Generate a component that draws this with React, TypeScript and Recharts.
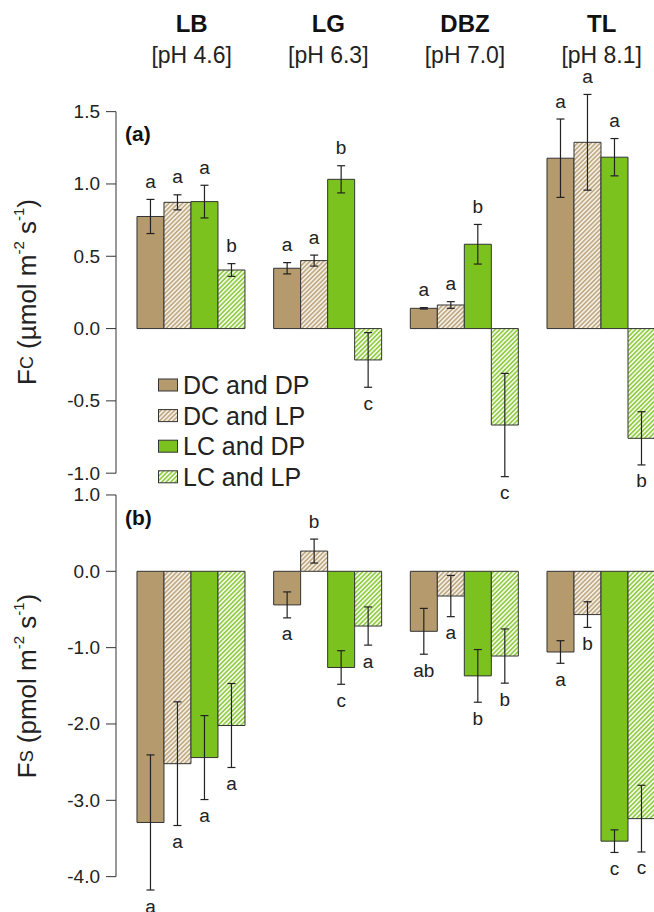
import React from 'react'
import { BarChart, Bar, XAxis, YAxis, ErrorBar, LabelList } from 'recharts'

// ─── Data ────────────────────────────────────────────────────────────────────

const SITES = ['LB', 'LG', 'DBZ', 'TL']
const SITE_PH = ['[pH 4.6]', '[pH 6.3]', '[pH 7.0]', '[pH 8.1]']
const TREATMENTS = ['DC and DP', 'DC and LP', 'LC and DP', 'LC and LP']

// (a) Fc  (µmol m-2 s-1), mean, error and significance letters per site
const FC_DCDP = [0.775, 0.417, 0.14, 1.178]
const FC_DCLP = [0.873, 0.47, 0.163, 1.288]
const FC_LCDP = [0.878, 1.032, 0.583, 1.185]
const FC_LCLP = [0.405, -0.217, -0.667, -0.759]
const FC_DCDP_ERR = [0.118, 0.039, 0.005, 0.271]
const FC_DCLP_ERR = [0.052, 0.038, 0.023, 0.331]
const FC_LCDP_ERR = [0.113, 0.094, 0.137, 0.129]
const FC_LCLP_ERR = [0.044, 0.189, 0.357, 0.184]
const FC_DCDP_SIG = ['a', 'a', 'a', 'a']
const FC_DCLP_SIG = ['a', 'a', 'a', 'a']
const FC_LCDP_SIG = ['a', 'b', 'b', 'a']
const FC_LCLP_SIG = ['b', 'c', 'c', 'b']
const FC_TICKS = [-1, -0.5, 0, 0.5, 1, 1.5]

// (b) Fs  (pmol m-2 s-1)
const FS_DCDP = [-3.29, -0.44, -0.786, -1.057]
const FS_DCLP = [-2.52, 0.265, -0.324, -0.567]
const FS_LCDP = [-2.44, -1.26, -1.37, -3.535]
const FS_LCLP = [-2.02, -0.717, -1.11, -3.24]
const FS_DCDP_ERR = [0.885, 0.17, 0.3, 0.148]
const FS_DCLP_ERR = [0.81, 0.157, 0.27, 0.168]
const FS_LCDP_ERR = [0.55, 0.22, 0.345, 0.148]
const FS_LCLP_ERR = [0.55, 0.25, 0.355, 0.437]
const FS_DCDP_SIG = ['a', 'a', 'ab', 'a']
const FS_DCLP_SIG = ['a', 'b', 'a', 'b']
const FS_LCDP_SIG = ['a', 'c', 'b', 'c']
const FS_LCLP_SIG = ['a', 'a', 'b', 'c']
const FS_TICKS = [-4, -3, -2, -1, 0, 1]

// ─── Layout / style ──────────────────────────────────────────────────────────

const FONT = "'Liberation Sans', Arial, Helvetica, sans-serif"
const INK = '#222'
const TAN = '#b49a6c'
const GREEN = '#7cc21f'
const CHART_W = 670
const AXIS_X = 116

// panel a: y range kept wider than the drawn axis so error bars / letters fit
const A_DOMAIN: [number, number] = [-1.2, 1.75]
const A_PLOT_H = 426.6
const A_TOP_AXIS_H = 75.5
const A_BOTTOM_PAD = 12
// panel b
const B_DOMAIN: [number, number] = [-4.4, 1.2]
const B_TOP = 440
const B_MARGIN_TOP = 39.7
const B_PLOT_H = 427.5
const B_BOTTOM_PAD = 5

const KEYS = ['dcdp', 'dclp', 'lcdp', 'lclp']

function buildRows(means: number[][], errs: number[][], sigs: string[][]) {
  return SITES.map((site, i) => {
    const row: Record<string, string | number> = { site }
    KEYS.forEach((k, j) => {
      row[k] = means[j][i]
      row[k + 'Err'] = errs[j][i]
      row[k + 'Sig'] = sigs[j][i]
    })
    return row
  })
}

const FC_MEANS = [FC_DCDP, FC_DCLP, FC_LCDP, FC_LCLP]
const FC_ERRS = [FC_DCDP_ERR, FC_DCLP_ERR, FC_LCDP_ERR, FC_LCLP_ERR]
const FS_MEANS = [FS_DCDP, FS_DCLP, FS_LCDP, FS_LCLP]
const FS_ERRS = [FS_DCDP_ERR, FS_DCLP_ERR, FS_LCDP_ERR, FS_LCLP_ERR]

const FC_ROWS = buildRows(FC_MEANS, FC_ERRS, [FC_DCDP_SIG, FC_DCLP_SIG, FC_LCDP_SIG, FC_LCLP_SIG])
const FS_ROWS = buildRows(FS_MEANS, FS_ERRS, [FS_DCDP_SIG, FS_DCLP_SIG, FS_LCDP_SIG, FS_LCLP_SIG])

function fills(sfx: string) {
  return [TAN, `url(#hatchTan${sfx})`, GREEN, `url(#hatchGreen${sfx})`]
}

function Patterns({ sfx }: { sfx: string }) {
  return (
    <defs>
      <pattern id={`hatchTan${sfx}`} patternUnits="userSpaceOnUse" width={3.2} height={3.2} patternTransform="rotate(45)">
        <rect width={3.2} height={3.2} fill="#f4efe6" />
        <line x1={0.8} y1={0} x2={0.8} y2={3.2} stroke={TAN} strokeWidth={1.3} />
      </pattern>
      <pattern id={`hatchGreen${sfx}`} patternUnits="userSpaceOnUse" width={3.2} height={3.2} patternTransform="rotate(45)">
        <rect width={3.2} height={3.2} fill="#f3faea" />
        <line x1={0.8} y1={0} x2={0.8} y2={3.2} stroke={GREEN} strokeWidth={1.3} />
      </pattern>
    </defs>
  )
}

// ─── Ticks & labels ──────────────────────────────────────────────────────────

// R-style axis: tick, label, and the axis segment up to the next tick
function makeYTick(stepPx: number, maxTick: number) {
  // eslint-disable-next-line @typescript-eslint/no-explicit-any
  return function YTick(props: any) {
    const { y, payload } = props
    const v = Number(payload.value)
    return (
      <g>
        <line x1={AXIS_X - 10} x2={AXIS_X} y1={y} y2={y} stroke="#333" strokeWidth={1} />
        {v < maxTick && <line x1={AXIS_X} x2={AXIS_X} y1={y} y2={y - stepPx} stroke="#333" strokeWidth={1} />}
        <text x={AXIS_X - 16} y={y} textAnchor="end" dominantBaseline="central" fontSize={19} fill={INK} fontFamily={FONT}>
          {v.toFixed(1)}
        </text>
      </g>
    )
  }
}

// eslint-disable-next-line @typescript-eslint/no-explicit-any
function SiteTick(props: any) {
  const { x, payload } = props
  const ph = SITE_PH[SITES.indexOf(payload.value)]
  return (
    <g fontFamily={FONT} fill="#111">
      <text x={x} y={24} textAnchor="middle" dominantBaseline="central" fontSize={24} fontWeight="bold">
        {payload.value}
      </text>
      <text x={x} y={55} textAnchor="middle" dominantBaseline="central" fontSize={23} fill={INK}>
        {ph}
      </text>
    </g>
  )
}

function letterLabel(means: number[], errs: number[]) {
  // eslint-disable-next-line @typescript-eslint/no-explicit-any
  return function Letter(props: any) {
    const vb = props.viewBox ?? props
    const x = Number(vb.x ?? props.x)
    const y = Number(vb.y ?? props.y)
    const w = Number(vb.width ?? props.width)
    const h = Number(vb.height ?? props.height)
    const i = props.index
    const v = means[i]
    const top = Math.min(y, y + h)
    const bot = Math.max(y, y + h)
    const pxPer = Math.abs(h) / Math.abs(v)
    const e = errs[i] * pxPer
    const cy = v >= 0 ? top - e - 18 : bot + e + 16
    return (
      <text x={x + w / 2} y={cy} textAnchor="middle" dominantBaseline="central" fontSize={19} fill={INK} fontFamily={FONT}>
        {props.value}
      </text>
    )
  }
}

function renderBars(means: number[][], errs: number[][], sfx: string) {
  const f = fills(sfx)
  return KEYS.map((k, j) => (
    <Bar
      key={k}
      dataKey={k}
      name={TREATMENTS[j]}
      fill={f[j]}
      stroke="#333"
      strokeWidth={1}
      isAnimationActive={false}
    >
      <ErrorBar dataKey={k + 'Err'} direction="y" width={4} stroke={INK} strokeWidth={1.2} isAnimationActive={false} />
      <LabelList dataKey={k + 'Sig'} content={letterLabel(means[j], errs[j])} />
    </Bar>
  ))
}

function LegendBlock() {
  const f = fills('A')
  return (
    <g fontFamily={FONT}>
      {TREATMENTS.map((t, i) => {
        const cy = 385 + i * 30.6
        return (
          <g key={t}>
            <rect x={158.5} y={cy - 6} width={19} height={12} fill={f[i]} stroke="#333" strokeWidth={1} />
            <text x={183} y={cy} dominantBaseline="central" fontSize={25} fill={INK}>
              {t}
            </text>
          </g>
        )
      })}
    </g>
  )
}

// ─── App ─────────────────────────────────────────────────────────────────────

export default function App() {
  const aStep = (0.5 / (A_DOMAIN[1] - A_DOMAIN[0])) * A_PLOT_H
  const bStep = (1 / (B_DOMAIN[1] - B_DOMAIN[0])) * B_PLOT_H

  return (
    <div
      style={{
        position: 'absolute',
        left: 0,
        top: 0,
        width: 654,
        height: 912,
        overflow: 'hidden',
        background: '#fff',
        fontFamily: FONT,
      }}
    >
      {/* ── (a) Fc ───────────────────────────────── */}
      <div style={{ position: 'absolute', left: 0, top: 0 }}>
        <BarChart
          width={CHART_W}
          height={A_TOP_AXIS_H + A_PLOT_H + A_BOTTOM_PAD}
          data={FC_ROWS}
          margin={{ top: 0, right: 0, left: 0, bottom: A_BOTTOM_PAD }}
          barCategoryGap="10%"
          barGap={0}
        >
          <Patterns sfx="A" />
          <XAxis
            dataKey="site"
            orientation="top"
            height={A_TOP_AXIS_H}
            axisLine={false}
            tickLine={false}
            interval={0}
            padding={{ left: 7.3, right: 0 }}
            tick={<SiteTick />}
          />
          <YAxis
            type="number"
            width={AXIS_X}
            domain={A_DOMAIN}
            ticks={FC_TICKS}
            interval={0}
            axisLine={false}
            tickLine={false}
            tick={makeYTick(aStep, 1.5)}
          />
          {renderBars(FC_MEANS, FC_ERRS, 'A')}
          <text x={125} y={134} dominantBaseline="central" fontSize={21} fontWeight="bold" fill="#111" fontFamily={FONT}>
            (a)
          </text>
          <text
            x={27}
            y={292}
            transform="rotate(-90 27 292)"
            textAnchor="middle"
            dominantBaseline="central"
            fontSize={26}
            fill={INK}
            fontFamily={FONT}
          >
            <tspan>F</tspan>
            <tspan fontSize={18}>C</tspan>
            <tspan> (µmol m</tspan>
            <tspan fontSize={15} dy={-9}>-2</tspan>
            <tspan dy={9}> s</tspan>
            <tspan fontSize={15} dy={-9}>-1</tspan>
            <tspan dy={9}>)</tspan>
          </text>
          <LegendBlock />
        </BarChart>
      </div>

      {/* ── (b) Fs ───────────────────────────────── */}
      <div style={{ position: 'absolute', left: 0, top: B_TOP }}>
        <BarChart
          width={CHART_W}
          height={B_MARGIN_TOP + B_PLOT_H + B_BOTTOM_PAD}
          data={FS_ROWS}
          margin={{ top: B_MARGIN_TOP, right: 0, left: 0, bottom: B_BOTTOM_PAD }}
          barCategoryGap="10%"
          barGap={0}
        >
          <Patterns sfx="B" />
          <XAxis dataKey="site" hide height={0} padding={{ left: 7.3, right: 0 }} />
          <YAxis
            type="number"
            width={AXIS_X}
            domain={B_DOMAIN}
            ticks={FS_TICKS}
            interval={0}
            axisLine={false}
            tickLine={false}
            tick={makeYTick(bStep, 1)}
          />
          {renderBars(FS_MEANS, FS_ERRS, 'B')}
          <text x={125} y={518 - B_TOP} dominantBaseline="central" fontSize={21} fontWeight="bold" fill="#111" fontFamily={FONT}>
            (b)
          </text>
          <text
            x={27}
            y={686 - B_TOP}
            transform={`rotate(-90 27 ${686 - B_TOP})`}
            textAnchor="middle"
            dominantBaseline="central"
            fontSize={26}
            fill={INK}
            fontFamily={FONT}
          >
            <tspan>F</tspan>
            <tspan fontSize={18}>S</tspan>
            <tspan> (pmol m</tspan>
            <tspan fontSize={15} dy={-9}>-2</tspan>
            <tspan dy={9}> s</tspan>
            <tspan fontSize={15} dy={-9}>-1</tspan>
            <tspan dy={9}>)</tspan>
          </text>
        </BarChart>
      </div>
    </div>
  )
}
